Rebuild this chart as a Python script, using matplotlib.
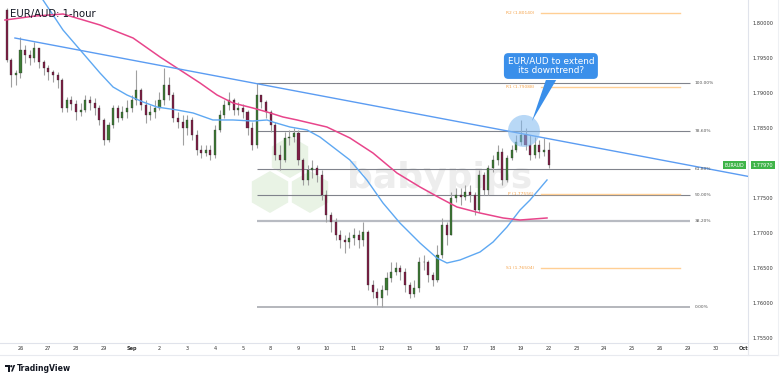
import matplotlib
matplotlib.use("Agg")
import matplotlib.pyplot as plt
import numpy as np
from matplotlib.patches import Ellipse, Polygon, RegularPolygon, Rectangle
from matplotlib.lines import Line2D
import matplotlib.transforms as mtransforms

# ---------------- data ----------------
TITLE = "EUR/AUD: 1-hour"
DAY_LABELS = ["26", "27", "28", "29", "Sep", "2", "3", "4", "5", "8", "9", "10", "11",
              "12", "15", "16", "17", "18", "19", "22", "23", "24", "25", "26", "29",
              "30", "Oct"]
BOLD_LABELS = ["Sep", "Oct"]

CANDLE_START = -0.5          # trading-day index of first candle
CANDLE_STEP = 1 / 6          # 4-hour candles
FIRST_OPEN = 1.80186
CLOSE = [1.79472, 1.79258, 1.79286, 1.79615, 1.79543, 1.79500, 1.79643, 1.79443, 1.79358, 1.79300,
         1.79258, 1.79186, 1.78786, 1.78900, 1.78843, 1.78729, 1.78758, 1.78900, 1.78858, 1.78786,
         1.78615, 1.78329, 1.78543, 1.78786, 1.78643, 1.78729, 1.78786, 1.78900, 1.79043, 1.78829,
         1.78686, 1.78729, 1.78786, 1.78900, 1.79115, 1.78972, 1.78643, 1.78586, 1.78500, 1.78615,
         1.78400, 1.78186, 1.78143, 1.78186, 1.78115, 1.78472, 1.78686, 1.78829, 1.78900, 1.78758,
         1.78786, 1.78729, 1.78500, 1.78258, 1.78972, 1.78872, 1.78729, 1.78543, 1.78115, 1.78043,
         1.78358, 1.78372, 1.78429, 1.78043, 1.77758, 1.77900, 1.77929, 1.77829, 1.77543, 1.77258,
         1.77158, 1.76972, 1.76900, 1.76872, 1.76929, 1.76972, 1.76900, 1.77015, 1.76258, 1.76158,
         1.76072, 1.76186, 1.76358, 1.76443, 1.76500, 1.76443, 1.76258, 1.76129, 1.76215, 1.76586,
         1.76586, 1.76400, 1.76329, 1.76686, 1.77115, 1.76972, 1.77500, 1.77543, 1.77515, 1.77586,
         1.77543, 1.77329, 1.77829, 1.77615, 1.77929, 1.78043, 1.78158, 1.77758, 1.78072, 1.78186,
         1.78300, 1.78400, 1.78258, 1.78115, 1.78258, 1.78158, 1.78186, 1.77970]
HIGH = [1.80215, 1.79500, 1.79329, 1.79800, 1.79686, 1.79615, 1.79729, 1.79643, 1.79472, 1.79400,
        1.79329, 1.79300, 1.79215, 1.78943, 1.78958, 1.78900, 1.78858, 1.78972, 1.78958, 1.78929,
        1.78829, 1.78643, 1.78586, 1.78829, 1.78829, 1.78815, 1.78900, 1.78972, 1.79329, 1.79072,
        1.78900, 1.78829, 1.78900, 1.79015, 1.79358, 1.79229, 1.79015, 1.78729, 1.78686, 1.78686,
        1.78658, 1.78472, 1.78258, 1.78258, 1.78258, 1.78543, 1.78758, 1.78900, 1.79015, 1.78929,
        1.78872, 1.78843, 1.78758, 1.78586, 1.79143, 1.78972, 1.78900, 1.78758, 1.78586, 1.78258,
        1.78443, 1.78472, 1.78500, 1.78472, 1.78072, 1.77972, 1.78043, 1.77972, 1.77900, 1.77615,
        1.77300, 1.77215, 1.77043, 1.76972, 1.77015, 1.77072, 1.77043, 1.77158, 1.77043, 1.76329,
        1.76215, 1.76258, 1.76443, 1.76586, 1.76586, 1.76543, 1.76500, 1.76300, 1.76329, 1.76658,
        1.76686, 1.76615, 1.76443, 1.76829, 1.77215, 1.77158, 1.77586, 1.77643, 1.77643, 1.77686,
        1.77686, 1.77586, 1.77900, 1.77872, 1.77972, 1.78115, 1.78258, 1.78215, 1.78115, 1.78258,
        1.78400, 1.78615, 1.78500, 1.78400, 1.78372, 1.78329, 1.78358, 1.78300]
LOW = [1.79443, 1.79086, 1.79115, 1.79215, 1.79429, 1.79400, 1.79443, 1.79358, 1.79258, 1.79186,
       1.79158, 1.79072, 1.78729, 1.78729, 1.78758, 1.78615, 1.78672, 1.78729, 1.78758, 1.78686,
       1.78543, 1.78258, 1.78300, 1.78500, 1.78586, 1.78615, 1.78643, 1.78729, 1.78829, 1.78758,
       1.78572, 1.78615, 1.78643, 1.78758, 1.78829, 1.78900, 1.78586, 1.78500, 1.78258, 1.78400,
       1.78329, 1.78115, 1.78072, 1.78100, 1.78043, 1.78072, 1.78443, 1.78643, 1.78758, 1.78686,
       1.78686, 1.78643, 1.78400, 1.78186, 1.78215, 1.78786, 1.78643, 1.78443, 1.78043, 1.77900,
       1.78015, 1.78258, 1.78300, 1.77972, 1.77686, 1.77686, 1.77786, 1.77729, 1.77472, 1.77158,
       1.77015, 1.76900, 1.76786, 1.76715, 1.76786, 1.76829, 1.76786, 1.76815, 1.76186, 1.76072,
       1.75972, 1.75943, 1.76115, 1.76300, 1.76400, 1.76329, 1.76158, 1.76072, 1.76086, 1.76158,
       1.76472, 1.76300, 1.76243, 1.76300, 1.76643, 1.76829, 1.76972, 1.77443, 1.77400, 1.77472,
       1.77443, 1.77258, 1.77300, 1.77543, 1.77543, 1.77872, 1.77972, 1.77686, 1.77729, 1.78043,
       1.78158, 1.78258, 1.78186, 1.78043, 1.78072, 1.78072, 1.78100, 1.77929]

BLUE_MA_D = [0.81, 1.53, 2.21, 2.86, 3.33, 3.83, 4.41, 4.91, 5.63, 6.21, 6.92, 7.64, 8.36, 8.87,
             9.08, 9.69, 10.31, 10.77, 11.24, 11.85, 12.46, 13.04, 13.65, 14.37, 14.98, 15.34,
             15.81, 16.53, 17.00, 17.50, 17.97, 18.33, 18.94]
BLUE_MA_P = [1.80329, 1.79900, 1.79586, 1.79286, 1.79086, 1.78972, 1.78872, 1.78800, 1.78758,
             1.78715, 1.78615, 1.78615, 1.78600, 1.78615, 1.78586, 1.78515, 1.78472, 1.78372,
             1.78229, 1.78043, 1.77758, 1.77429, 1.77143, 1.76858, 1.76643, 1.76572, 1.76615,
             1.76729, 1.76872, 1.77086, 1.77329, 1.77472, 1.77758]
PINK_MA_D = [-0.56, 0.52, 1.53, 2.86, 4.05, 5.02, 5.74, 6.46, 7.07, 7.64, 8.36, 8.87, 9.44, 9.95,
             11.02, 11.85, 12.68, 13.54, 14.37, 15.09, 15.70, 16.53, 17.36, 17.97, 18.94]
PINK_MA_P = [1.80043, 1.80100, 1.80129, 1.79972, 1.79786, 1.79515, 1.79329, 1.79143, 1.78972,
             1.78858, 1.78786, 1.78729, 1.78658, 1.78615, 1.78515, 1.78358, 1.78143, 1.77858,
             1.77658, 1.77500, 1.77372, 1.77286, 1.77215, 1.77186, 1.77215]

TREND_D = [-0.2, 24.19]
TREND_P = [1.79786, 1.77958]

FIB_HIGH = 1.79143
FIB_LOW = 1.75943
FIB_RATIOS = [1.0, 0.786, 0.618, 0.5, 0.382, 0.0]
FIB_LABELS = ["100.00%", "78.60%", "61.80%", "50.00%", "38.20%", "0.00%"]
FIB_START_D = 8.5
FIB_END_D = 24.08

PIVOT_NAMES = ["R2", "R1", "P", "S1"]
PIVOT_VALUES = [1.80140, 1.79088, 1.77556, 1.76504]
PIVOT_START_D = 18.72
PIVOT_END_D = 23.72

SYMBOL = "EURAUD"
LAST_PRICE = 1.77970
CALLOUT = "EUR/AUD to extend\nits downtrend?"

# ---------------- figure ----------------
W, H = 780, 380
fig = plt.figure(figsize=(W / 100, H / 100), dpi=100)
fig.patch.set_facecolor("white")
ax = fig.add_axes([0, 37 / H, 748 / W, 343 / H])
ax.set_facecolor("white")
XMIN, XMAX = -0.737, 26.17
YMIN, YMAX = 1.75429, 1.80329
ax.set_xlim(XMIN, XMAX)
ax.set_ylim(YMIN, YMAX)

pix = mtransforms.Affine2D().scale(1, -1).translate(0, H)  # top-left pixel coords

# watermark
hex_col = "#e9f3e5"
for cx, cy in [(290, 157), (270, 192), (310, 192)]:
    ax.add_patch(RegularPolygon((cx, cy), numVertices=6, radius=21, orientation=0,
                                facecolor=hex_col, edgecolor="none",
                                transform=pix, zorder=0.5, clip_on=False))
ax.text(440 / 748, 1 - 178 / 343, "babypips", transform=ax.transAxes, fontsize=26,
        fontweight="bold", color="#ededed", ha="center", va="center", zorder=0.6)

# fib levels
fib_rng = FIB_HIGH - FIB_LOW
for r, lab in zip(FIB_RATIOS, FIB_LABELS):
    lvl = FIB_LOW + r * fib_rng
    if r == 0.382:
        col, lw = "#b8bbc2", 1.6
    elif r == 0.0:
        col, lw = "#a0a3aa", 1.1
    else:
        col, lw = "#80838c", 0.8
    ax.plot([FIB_START_D, FIB_END_D], [lvl, lvl], color=col, lw=lw, zorder=2,
            solid_capstyle="butt")
    ax.text(FIB_END_D + 0.18, lvl, lab, fontsize=3.2, color="#555555", ha="left",
            va="center", zorder=6)

# pivots
for name, v in zip(PIVOT_NAMES, PIVOT_VALUES):
    ax.plot([PIVOT_START_D, PIVOT_END_D], [v, v], color="#ffcf94", lw=1.0, zorder=2)
    ax.text(PIVOT_START_D - 0.25, v, f"{name} ({v:.5f})", fontsize=3.2, color="#f5a34a",
            ha="right", va="center", zorder=6)

# candles
close = np.array(CLOSE)
high = np.array(HIGH)
low = np.array(LOW)
opens = np.concatenate([[FIRST_OPEN], close[:-1]])
xs = CANDLE_START + np.arange(len(close)) * CANDLE_STEP
high = np.maximum(high, np.maximum(opens, close))
low = np.minimum(low, np.minimum(opens, close))
ax.vlines(xs, low, high, color="#a0a0a0", lw=0.8, zorder=3)
up = close >= opens
body_h = np.where(np.abs(close - opens) < 0.00005, 0.00005, close - opens)
colors = np.where(up, "#3d7a35", "#7e1f45")
ax.bar(xs, body_h, bottom=opens, width=CANDLE_STEP * 0.45, color=colors,
       edgecolor="#2a2a2a", linewidth=0.2, zorder=4)

# moving averages and trendline
ax.plot(BLUE_MA_D, BLUE_MA_P, color="#5ea8f2", lw=1.0, zorder=5)
ax.plot(PINK_MA_D, PINK_MA_P, color="#e8458b", lw=1.1, zorder=5)
slope = (TREND_P[1] - TREND_P[0]) / (TREND_D[1] - TREND_D[0])
ax.plot([TREND_D[0], XMAX], [TREND_P[0], TREND_P[0] + slope * (XMAX - TREND_D[0])],
        color="#5b9cf2", lw=1.0, zorder=5)

# highlight circle + callout
ax.add_patch(Ellipse((18.11, 1.78458), width=1.15, height=0.00457,
                     facecolor="#7fb8f0", alpha=0.55, edgecolor="none", zorder=7))
ax.add_patch(Polygon([(18.90, 1.79186), (19.27, 1.79186), (18.40, 1.78600)], closed=True,
                     facecolor="#3a8fea", edgecolor="none", zorder=8))
ax.text(19.08, 1.79386, CALLOUT, fontsize=6.4, color="white", ha="center", va="center",
        linespacing=1.05, zorder=9,
        bbox=dict(boxstyle="round,pad=0.42,rounding_size=0.5", facecolor="#3a8fea",
                  edgecolor="none"))

# title
ax.text(10 / 748, 1 - 14 / 343, TITLE, transform=ax.transAxes, fontsize=7.3,
        color="#131722", ha="left", va="center", zorder=10)

# axes styling (the 1.78000 label sits under the last-price tag, as in the reference)
yt = np.round(np.arange(1.755, 1.80001, 0.005), 3)
ax.yaxis.tick_right()
ax.set_yticks(yt)
ax.set_yticklabels(["" if abs(v - LAST_PRICE) < 0.001 else f"{v:.5f}" for v in yt],
                   fontsize=3.6, color="#333333")
ax.set_xticks(range(len(DAY_LABELS)))
ax.set_xticklabels(DAY_LABELS, fontsize=3.6, color="#333333")
for t in ax.get_xticklabels():
    if t.get_text() in BOLD_LABELS:
        t.set_fontweight("bold")
ax.tick_params(axis="y", length=0, pad=3)
ax.tick_params(axis="x", length=0, pad=2.2)
for s in ["top", "left"]:
    ax.spines[s].set_visible(False)
for s in ["right", "bottom"]:
    ax.spines[s].set_color("#e0e3eb")
    ax.spines[s].set_linewidth(0.8)

# price tags
blend = mtransforms.blended_transform_factory(ax.transAxes, ax.transData)
ax.text(1.006, LAST_PRICE, f"{LAST_PRICE:.5f}", transform=blend, fontsize=3.6,
        color="white", ha="left", va="center", zorder=12, clip_on=False,
        bbox=dict(boxstyle="square,pad=0.3", facecolor="#3fb449", edgecolor="none"))
ax.text(0.995, LAST_PRICE, SYMBOL, transform=blend, fontsize=3.4, color="white",
        ha="right", va="center", zorder=12, clip_on=False,
        bbox=dict(boxstyle="square,pad=0.3", facecolor="#3fb449", edgecolor="none"))

# bottom strip border
fig.add_artist(Line2D([0, 778], [355, 355], transform=pix, color="#e8eaef", lw=0.8))
fig.add_artist(Line2D([748, 748], [343, 355], transform=pix, color="#e8eaef", lw=0.8))
fig.add_artist(Line2D([778, 778], [0, 355], transform=pix, color="#eef0f3", lw=0.8))

# TradingView logo
fig.add_artist(Rectangle((5, 365), 5, 2, transform=pix, facecolor="#131722", edgecolor="none"))
fig.add_artist(Rectangle((7.5, 365), 2.5, 6.5, transform=pix, facecolor="#131722",
                         edgecolor="none"))
fig.add_artist(Polygon([(11, 371.5), (13.5, 365), (15.2, 365), (12.7, 371.5)], closed=True,
                       transform=pix, facecolor="#131722", edgecolor="none"))
fig.add_artist(plt.Circle((11.3, 366.2), 1.1, transform=pix, facecolor="#131722",
                          edgecolor="none"))
fig.text(16.5 / W, 1 - 368.5 / H, "TradingView", fontsize=5.6, fontweight="bold",
         color="#131722", ha="left", va="center")

fig.savefig("out.png", dpi=100)
